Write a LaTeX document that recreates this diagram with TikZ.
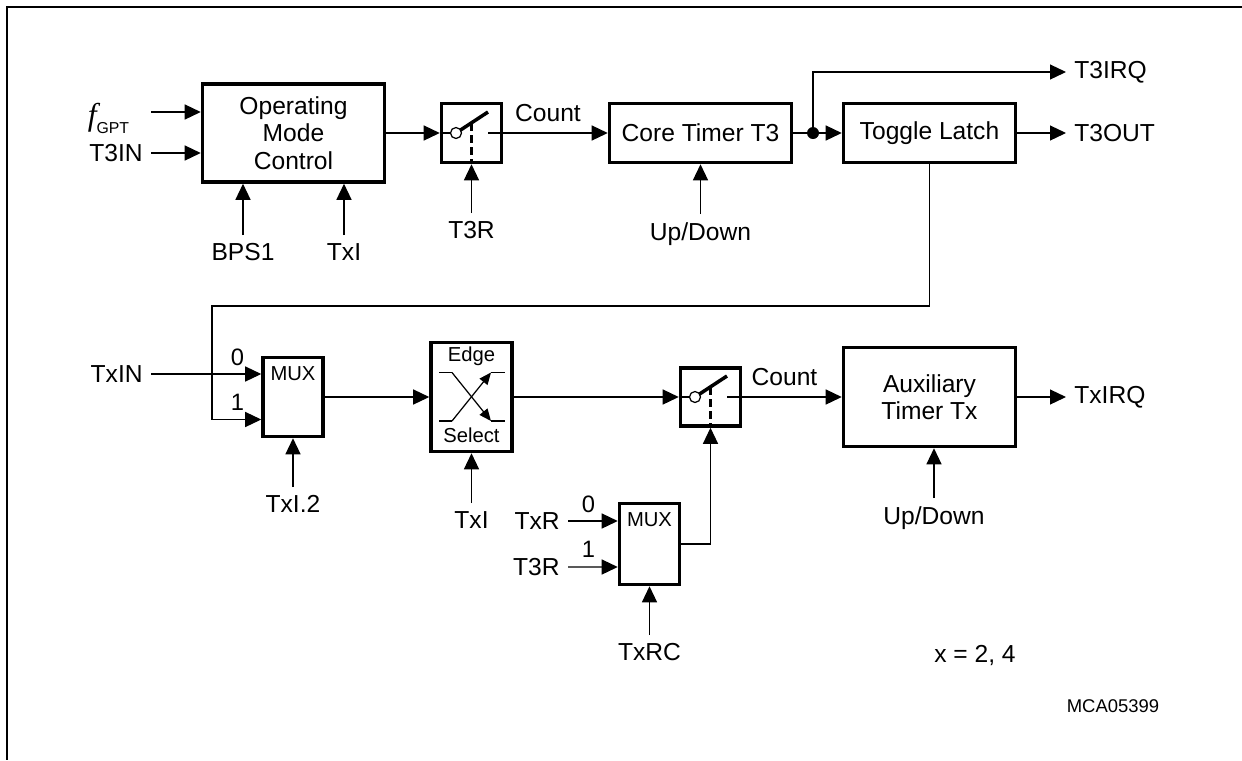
\documentclass[tikz,border=0pt]{standalone}
\usepackage{fontspec}
\setmainfont{Liberation Sans}
\newfontfamily\timesfont{Liberation Serif}
\usetikzlibrary{arrows.meta}

\tikzset{
  blk/.style={draw, rectangle, line width=2pt, inner sep=0pt, align=center, font=\fontsize{14}{15.5}\selectfont},
  lbl/.style={inner sep=0.16cm, font=\fontsize{14}{16}\selectfont},
  note/.style={inner sep=0pt, font=\fontsize{14}{16}\selectfont},
  tag/.style={inner sep=0pt, font=\fontsize{13.5}{15}\selectfont},
  muxtxt/.style={inner sep=0pt, font=\fontsize{11.5}{13}\selectfont},
  sig/.style={line width=0.7pt},
  arr/.style={sig, -{Triangle[length=0.32cm,width=0.3cm]}},
  edgearr/.style={sig, -{Triangle[length=0.24cm,width=0.2cm]}},
  blade/.style={line width=2pt},
  ctrl/.style={line width=1.5pt, dash pattern=on 0.16cm off 0.08cm},
}

\begin{document}
\begin{tikzpicture}
  \useasboundingbox (0,0) rectangle (24.84,-15.2);
  % Frame
  \draw[line width=1pt] (24.84,-0.14) -- (0.14,-0.14) -- (0.14,-15.2);

  % Blocks of timer T3
  \node[blk, minimum width=3.64cm, minimum height=1.96cm] (omc) at (5.87,-2.66) {Operating\\Mode\\Control};
  \node[blk, minimum width=1.2cm, minimum height=1.18cm] (sw1) at (9.43,-2.66) {};
  \node[blk, minimum width=3.64cm, minimum height=1.18cm] (core) at (14.01,-2.66) {Core Timer T3};
  \node[blk, minimum width=3.44cm, minimum height=1.18cm] (latch) at (18.59,-2.66) {Toggle Latch};

  % Blocks of timer Tx
  \node[blk, minimum width=1.2cm, minimum height=1.58cm,
        label={[muxtxt, anchor=north, yshift=-0.2cm]north:MUX}] (mux1) at (5.86,-7.94) {};
  \node[blk, minimum width=1.62cm, minimum height=2.18cm,
        label={[muxtxt, anchor=north, yshift=-0.12cm]north:Edge},
        label={[muxtxt, anchor=south, yshift=0.2cm]south:Select}] (edge) at (9.43,-7.94) {};
  \node[blk, minimum width=1.2cm, minimum height=1.16cm] (sw2) at (14.21,-7.94) {};
  \node[blk, minimum width=3.44cm, minimum height=1.98cm] (aux) at (18.59,-7.94) {Auxiliary\\Timer Tx};
  \node[blk, minimum width=1.2cm, minimum height=1.62cm,
        label={[muxtxt, anchor=north, yshift=-0.2cm]north:MUX}] (mux2) at (12.99,-10.88) {};

  % Signal names, upper row
  \node[lbl] (fgpt) at (2.17,-2.36) {{\timesfont\itshape\fontsize{18}{18}\selectfont f}\raisebox{-0.32em}{\fontsize{9}{9}\selectfont GPT}};
  \coordinate (fgptin) at (3.02,-2.24);
  \node[lbl, anchor=east] (t3in) at (3.02,-3.06) {T3IN};
  \node[lbl, anchor=north] (bps) at (4.86,-4.70) {BPS1};
  \node[lbl, anchor=north] (txi1) at (6.88,-4.70) {TxI};
  \node[lbl, anchor=north] (t3r1) at (9.43,-4.26) {T3R};
  \node[note] (cnt1) at (10.96,-2.27) {Count};
  \node[lbl, anchor=north] (ud1) at (14.01,-4.28) {Up/Down};
  \node[lbl, anchor=west] (t3irq) at (21.32,-1.44) {T3IRQ};
  \node[lbl, anchor=west] (t3out) at (21.32,-2.66) {T3OUT};
  \coordinate (jn) at (16.26,-2.66);
  \coordinate (fb) at (4.24,-6.12);

  % Signal names, lower row
  \node[lbl, anchor=east] (txin) at (3.02,-7.48) {TxIN};
  \node[tag] (m1zero) at (4.75,-7.15) {0};
  \node[tag] (m1one) at (4.75,-8.05) {1};
  \node[lbl, anchor=north] (txi2) at (5.86,-9.74) {TxI.2};
  \node[lbl, anchor=north] (txi3) at (9.43,-10.06) {TxI};
  \node[note] (cnt2) at (15.69,-7.54) {Count};
  \node[lbl, anchor=west] (txirq) at (21.32,-7.94) {TxIRQ};
  \node[lbl, anchor=north] (ud2) at (18.68,-9.96) {Up/Down};
  \node[lbl, anchor=east] (txr) at (11.36,-10.42) {TxR};
  \node[lbl, anchor=east] (t3r2) at (11.36,-11.34) {T3R};
  \node[tag] (m2zero) at (11.77,-10.08) {0};
  \node[tag] (m2one) at (11.77,-10.98) {1};
  \node[lbl, anchor=north] (txrc) at (12.99,-12.7) {TxRC};
  \node[note] (xval) at (19.5,-13.1) {x = 2, 4};
  \node[note, font=\fontsize{10.5}{12}\selectfont] (fig) at (22.26,-14.12) {MCA05399};

  % Connections, upper row
  \draw[arr] (fgptin) -- (fgptin -| omc.west);
  \draw[arr] (t3in.east) -- (t3in.east -| omc.west);
  \draw[arr] (bps.north) -- (bps.north |- omc.south);
  \draw[arr] (txi1.north) -- (txi1.north |- omc.south);
  \draw[arr] (omc) -- (sw1);
  \draw[arr] (t3r1.north) -- (sw1.south);
  \draw[arr] (sw1) -- (core);
  \draw[arr] (ud1.north) -- (core.south);
  \draw[arr] (core) -- (latch);
  \draw[arr] (jn) |- (t3irq.west);
  \fill (jn) circle (0.12);
  \draw[arr] (latch.east) -- (t3out.west);
  \draw[arr] (latch.south) |- (fb) |- ([yshift=-0.45cm]mux1.west);

  % Connections, lower row
  \draw[arr] (txin.east) -- ([yshift=0.46cm]mux1.west);
  \draw[arr] (txi2.north) -- (mux1.south);
  \draw[arr] (mux1) -- (edge);
  \draw[arr] (txi3.north) -- (edge.south);
  \draw[arr] (edge) -- (sw2);
  \draw[arr] (sw2) -- (aux);
  \draw[arr] (aux.east) -- (txirq.west);
  \draw[arr] (ud2.north) -- (ud2.north |- aux.south);
  \draw[arr] (txr.east) -- ([yshift=0.46cm]mux2.west);
  \draw[arr] (t3r2.east) -- ([yshift=-0.46cm]mux2.west);
  \draw[arr] (txrc.north) -- (mux2.south);
  \draw[arr] (mux2.east) -| (sw2.south);

  % Switch symbols
  \draw[sig] (sw1.west) -- ++(0.2,0);
  \draw[sig] (sw1.east) -- ++(-0.3,0);
  \draw[blade] ([xshift=-0.31cm]sw1.center) -- ++(0.64,0.42);
  \draw[ctrl] ([yshift=0.2cm]sw1.center) -- (sw1.south);
  \filldraw[sig, fill=white] ([xshift=-0.31cm]sw1.center) circle (0.11);
  \draw[sig] (sw2.west) -- ++(0.2,0);
  \draw[sig] (sw2.east) -- ++(-0.3,0);
  \draw[blade] ([xshift=-0.31cm]sw2.center) -- ++(0.64,0.42);
  \draw[ctrl] ([yshift=0.2cm]sw2.center) -- (sw2.south);
  \filldraw[sig, fill=white] ([xshift=-0.31cm]sw2.center) circle (0.11);

  % Edge select symbol
  \draw[sig] ([shift={(-0.65,0.49)}]edge.center) -- ++(0.26,0);
  \draw[edgearr] ([shift={(-0.39,0.49)}]edge.center) -- ++(0.78,-0.97);
  \draw[sig] ([shift={(0.39,-0.48)}]edge.center) -- ++(0.28,0);
  \draw[sig] ([shift={(-0.65,-0.48)}]edge.center) -- ++(0.26,0);
  \draw[edgearr] ([shift={(-0.39,-0.48)}]edge.center) -- ++(0.78,0.97);
  \draw[sig] ([shift={(0.39,0.49)}]edge.center) -- ++(0.28,0);
\end{tikzpicture}
\end{document}
